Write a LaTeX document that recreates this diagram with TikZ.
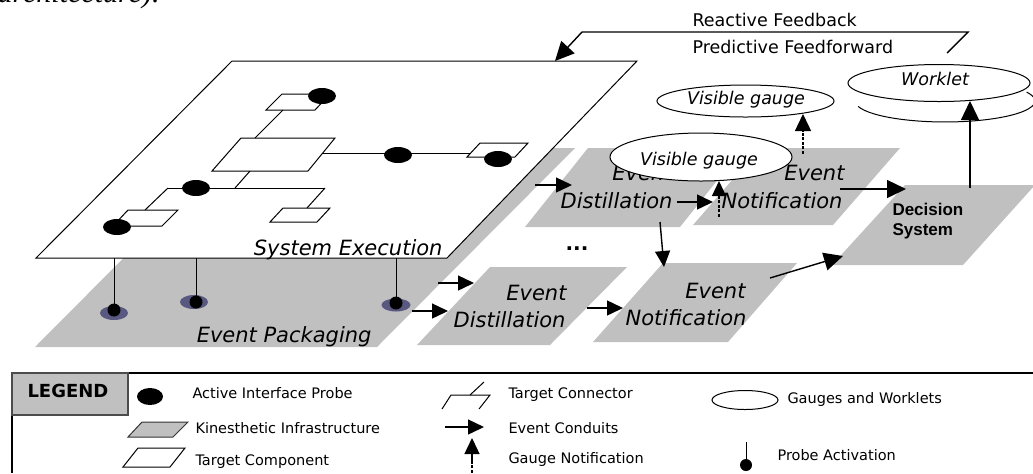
\documentclass[tikz,border=0pt]{standalone}
\usepackage{fontspec}
\setmainfont{DejaVu Sans}
\newfontfamily\lsans{Liberation Sans}
\newfontfamily\tnr{Liberation Serif}
\usetikzlibrary{arrows.meta}
\definecolor{plane}{RGB}{192,192,192}
\definecolor{shadowc}{RGB}{88,88,128}
\begin{document}
\begin{tikzpicture}[x=0.5pt,y=-0.5pt,line width=0.5pt,
  kin/.style={fill=plane},
  tgt/.style={fill=white,draw=black},
  probe/.style={fill=black},
  wire/.style={line width=0.5pt},
  conduit/.style={-{Triangle[length=8pt,width=7.5pt]},line width=0.7pt},
  bigconduit/.style={-{Triangle[length=9.5pt,width=9pt]},line width=0.7pt},
  gnote/.style={-{Triangle[length=7.5pt,width=7pt]},line width=0.7pt,dash pattern=on 1.5pt off 0.8pt},
  biggnote/.style={-{Triangle[length=8.5pt,width=8pt]},line width=0.7pt,dash pattern=on 1.5pt off 0.8pt},
  lbl/.style={inner sep=0,font=\fontsize{10.5}{12}\selectfont\itshape},
  gaugetxt/.style={inner sep=0,font=\fontsize{8.75}{10}\selectfont\itshape},
  fbtxt/.style={inner sep=0,font=\fontsize{8.75}{10}\selectfont},
  dectxt/.style={inner sep=0,font=\lsans\bfseries\fontsize{8.5}{10}\selectfont},
  legtxt/.style={inner sep=0,anchor=base west,font=\fontsize{7.25}{9}\selectfont},
  leghead/.style={inner sep=0,anchor=base west,font=\bfseries\fontsize{9}{10}\selectfont},
  gaugeshape/.style={fill=white,draw=black,line width=0.5pt}
]
\useasboundingbox (0,0) rectangle (1033,473);

% cut-off caption fragment
\node[anchor=base east,inner sep=0,font=\tnr\itshape\fontsize{15}{18}\selectfont] (frag) at (160,2) {architecture).};

% ---------- Event Packaging plane and System Execution plane
\fill[kin] (35,347) -- (377,347) -- (575,148) -- (233,148) -- cycle;
\filldraw[tgt] (36,258) -- (447,258) -- (637,61) -- (232,61) -- cycle;

% target components
\filldraw[tgt] (266,110) -- (315,110) -- (330,94) -- (282,94) -- cycle;
\filldraw[tgt] (212,171) -- (308,171) -- (335,138) -- (241,138) -- cycle;
\filldraw[tgt] (467,157) -- (515,157) -- (528,143) -- (480,143) -- cycle;
\filldraw[tgt] (113,226) -- (162,226) -- (178,210) -- (128,210) -- cycle;
\filldraw[tgt] (270,222) -- (317,222) -- (330,208) -- (283,208) -- cycle;

% target connectors
\coordinate (c1b) at (283,110); \coordinate (c2t) at (255,138);
\coordinate (c2r) at (323,153); \coordinate (c3l) at (471,153);
\coordinate (c2b) at (250,171); \coordinate (hj) at (235,188);
\coordinate (hl) at (168,188); \coordinate (hr) at (325,188);
\coordinate (c4t) at (145,210); \coordinate (c5t) at (307,208);
\draw[wire] (c1b) -- (c2t);
\draw[wire] (c2r) -- (c3l);
\draw[wire] (c2b) -- (hj);
\draw[wire] (hl) -- (hr);
\draw[wire] (hl) -- (c4t);
\draw[wire] (hr) -- (c5t);

% active interface probes
\fill[probe] (322,96) ellipse [x radius=14,y radius=8];
\fill[probe] (398,155) ellipse [x radius=14,y radius=8];
\fill[probe] (498,159) ellipse [x radius=14,y radius=8];
\fill[probe] (196,188) ellipse [x radius=14,y radius=8];
\fill[probe] (117,227) ellipse [x radius=14,y radius=8];

% probe activations onto Event Packaging
\fill[shadowc] (114,313) ellipse [x radius=14,y radius=7];
\fill[shadowc] (194,302) ellipse [x radius=14,y radius=7];
\fill[shadowc] (396,305) ellipse [x radius=14.5,y radius=6.5];
\coordinate (pa1) at (114,258); \coordinate (pd1) at (114,310);
\coordinate (pa2) at (196,258); \coordinate (pd2) at (196,302);
\coordinate (pa3) at (396,258); \coordinate (pd3) at (396,303);
\draw[wire] (pa1) -- (pd1);
\draw[wire] (pa2) -- (pd2);
\draw[wire] (pa3) -- (pd3);
\fill[probe] (pd1) circle [radius=6.5];
\fill[probe] (pd2) circle [radius=6.5];
\fill[probe] (pd3) circle [radius=6.5];

\node[lbl,anchor=base east] (sysexec) at (443,255) {System Execution};
\node[lbl,anchor=base east] (evpack) at (372,342) {Event Packaging};

% ---------- other kinesthetic planes
\fill[kin] (525,227) -- (680,227) -- (743,148) -- (588,148) -- cycle;
\fill[kin] (693,225) -- (833,225) -- (900,148) -- (760,148) -- cycle;
\fill[kin] (832,265) -- (963,265) -- (1035,185) -- (905,185) -- cycle;
\fill[kin] (417,345) -- (550,345) -- (627,267) -- (490,267) -- cycle;
\fill[kin] (593,342) -- (728,342) -- (797,263) -- (663,263) -- cycle;

\node[lbl,anchor=base east] (ud1) at (673,180) {Event};
\node[lbl,anchor=base east] (ud2) at (673,208) {Distillation};
\node[lbl,anchor=base east] (un1) at (845,180) {Event};
\node[lbl,anchor=base east] (un2) at (843,208) {Notification};
\node[lbl,anchor=base east] (ld1) at (567,300) {Event};
\node[lbl,anchor=base east] (ld2) at (566,327) {Distillation};
\node[lbl,anchor=base east] (ln1) at (746,298) {Event};
\node[lbl,anchor=base east] (ln2) at (747,325) {Notification};
\node[dectxt,anchor=base west] (ds1) at (892,215) {Decision};
\node[dectxt,anchor=base west] (ds2) at (892,235) {System};
\node[inner sep=0,font=\bfseries\fontsize{10}{12}\selectfont] (dots) at (577,249) {...};

% ---------- gauges and worklet
\filldraw[gaugeshape] (701,157) ellipse [x radius=91,y radius=24];
\node[gaugetxt,anchor=base] (vg1) at (699,165) {Visible gauge};
\filldraw[gaugeshape] (745.5,101) ellipse [x radius=88.5,y radius=16];
\node[gaugetxt,anchor=base] (vg2) at (746,104) {Visible gauge};
\draw[line width=0.5pt] (858.1,106.4) arc [start angle=165,end angle=-25,x radius=90,y radius=21];
\filldraw[gaugeshape] (939,83) ellipse [x radius=91,y radius=18.5];
\node[gaugetxt,anchor=base] (wk) at (935,85) {Worklet};

% ---------- feedback
\node[fbtxt,anchor=base west] (rf) at (692,26) {Reactive Feedback};
\node[fbtxt,anchor=base west] (pf) at (692,53) {Predictive Feedforward};
\coordinate (fb0) at (947,53); \coordinate (fb1) at (968,32);
\coordinate (fb2) at (582,32); \coordinate (fb3) at (555,61);
\draw[bigconduit] (fb0) -- (fb1) -- (fb2) -- (fb3);

% ---------- event conduits
\coordinate (a1s) at (535,185); \coordinate (a1e) at (572,185);
\coordinate (a2s) at (677,202); \coordinate (a2e) at (713,202);
\coordinate (a3s) at (840,189); \coordinate (a3e) at (906,189);
\coordinate (w1s) at (970,188); \coordinate (w1e) at (970,101);
\coordinate (d1s) at (660,222); \coordinate (d1e) at (664,267);
\coordinate (e1s) at (438,283); \coordinate (e1e) at (474,283);
\coordinate (e2s) at (412,311); \coordinate (e2e) at (448,311);
\coordinate (a4s) at (587,308); \coordinate (a4e) at (623,308);
\coordinate (a5s) at (770,278); \coordinate (a5e) at (843,256);
\draw[conduit] (a1s) -- (a1e);
\draw[conduit] (a2s) -- (a2e);
\draw[bigconduit] (a3s) -- (a3e);
\draw[bigconduit] (w1s) -- (w1e);
\draw[conduit] (d1s) -- (d1e);
\draw[conduit] (e1s) -- (e1e);
\draw[conduit] (e2s) -- (e2e);
\draw[conduit] (a4s) -- (a4e);
\draw[bigconduit] (a5s) -- (a5e);

% gauge notifications
\coordinate (g1s) at (719,217); \coordinate (g1e) at (719,181);
\coordinate (g2s) at (803,154); \coordinate (g2e) at (803,114);
\draw[gnote] (g1s) -- (g1e);
\draw[biggnote] (g2s) -- (g2e);

% ---------- legend
\coordinate (lg0) at (12,373); \coordinate (lg1) at (1033,373); \coordinate (lg2) at (12,473);
\draw[line width=0.6pt] (lg0) -- (lg1);
\draw[line width=0.6pt] (lg0) -- (lg2);
\filldraw[fill=plane,draw=black!70,line width=0.6pt] (12,373) rectangle (128,415);
\node[leghead] (leg) at (27,397) {LEGEND};

\fill[probe] (150,396.5) ellipse [x radius=13,y radius=8.5];
\node[legtxt] (l1) at (192,398) {Active Interface Probe};
\filldraw[fill=plane,draw=black!80] (128,437) -- (173,437) -- (188,422) -- (142,422) -- cycle;
\node[legtxt] (l2) at (195,433) {Kinesthetic Infrastructure};
\filldraw[tgt] (123,467) -- (170,467) -- (185,448) -- (138,448) -- cycle;
\node[legtxt] (l3) at (195,465) {Target Component};

\draw[wire] (442,409) -- (451,395) -- (490,395) -- (479,409);
\draw[wire] (470,395) -- (484,382);
\node[legtxt] (l4) at (508,398) {Target Connector};
\coordinate (lc1) at (445,427); \coordinate (lc2) at (484,427);
\draw[conduit] (lc1) -- (lc2);
\node[legtxt] (l5) at (508,433) {Event Conduits};
\coordinate (ln0) at (472,473); \coordinate (lnm) at (472,462); \coordinate (lnt) at (472,438);
\draw[line width=0.7pt,dash pattern=on 1.5pt off 0.8pt] (ln0) -- (lnm);
\draw[conduit] (lnm) -- (lnt);
\node[legtxt] (l6) at (508,463) {Gauge Notification};

\draw[line width=0.5pt] (745,400) ellipse [x radius=33,y radius=9.5];
\node[legtxt] (l7) at (787,403) {Gauges and Worklets};
\coordinate (lpa) at (746,442); \coordinate (lpd) at (746,465);
\draw[wire] (lpa) -- (lpd);
\fill[probe] (lpd) circle [radius=6];
\node[legtxt] (l8) at (777,460) {Probe Activation};
\end{tikzpicture}
\end{document}
